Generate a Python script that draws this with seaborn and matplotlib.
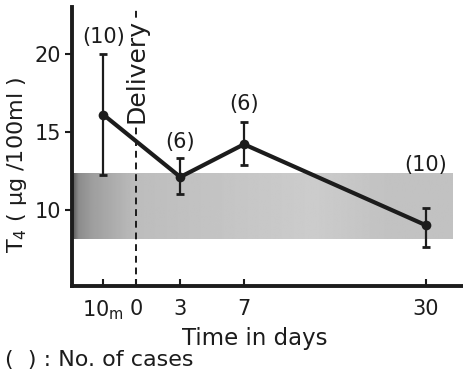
import numpy as np
import matplotlib
matplotlib.use('Agg')
import matplotlib.pyplot as plt
import seaborn as sns

###############################################################################

# Serum T4 around delivery (mean, error bar ends)
point_names = ['10m', '3', '7', '30']
t4_mean = [16.1, 12.1, 14.2, 9.0]
t4_low = [12.2, 11.0, 12.9, 7.6]
t4_high = [20.0, 13.3, 15.6, 10.1]
n_cases = [10, 6, 6, 10]

# normal range (shaded band)
norm_lo, norm_hi = 8.1, 12.3

tick_names = ['10m', '0', '3', '7', '30']
tick_labels = [r'10$_{\mathrm{m}}$', '0', '3', '7', '30']

# compressed time axis: where each time point sits on the drawing
axis_pos = {'10m': -2.2, '0': 0.0, '3': 3.0, '7': 7.3, '30': 19.6}
count_gap = [1.1, 1.05, 1.2, 2.75]

###############################################################################

if __name__ == "__main__":

    sns.set_style('ticks')
    plt.rcParams['font.family'] = ['DejaVu Sans']
    ink = '#1c1c1c'

    fig, ax = plt.subplots(figsize=(4.64, 3.74), dpi=100)
    fig.subplots_adjust(left=0.155, right=1.0, bottom=0.235, top=0.981)

    xs = np.array([axis_pos[k] for k in point_names])
    mean = np.array(t4_mean)
    lo = np.array(t4_low)
    hi = np.array(t4_high)

    x_min, x_max = -4.32, 22.16
    y_min, y_max = 5.1, 23.0

    # dotted grey band, darker near the left edge like the print
    stops_x = [x_min, -3.9, -3.0, 0.0, 4.0, 12.0, 17.0, 21.4]
    stops_v = [0.35, 0.55, 0.62, 0.74, 0.76, 0.80, 0.76, 0.76]
    cols = np.linspace(x_min, 21.4, 300)
    shade = np.interp(cols, stops_x, stops_v)[None, :]
    ax.imshow(shade, cmap='gray', vmin=0, vmax=1, aspect='auto',
              extent=[x_min, 21.4, norm_lo, norm_hi], zorder=0,
              interpolation='bilinear')

    # delivery marker
    ax.axvline(0, color=ink, linestyle=(0, (3.5, 2.5)), linewidth=1.4,
               zorder=1)
    ax.text(0.07, 18.87, 'Delivery', rotation=90, ha='center', va='center',
            fontsize=18, color=ink, zorder=2,
            bbox=dict(facecolor='white', edgecolor='none', pad=1.0))

    ax.errorbar(xs, mean, yerr=[mean - lo, hi - mean], fmt='none',
                ecolor=ink, elinewidth=1.6, capsize=3, capthick=2,
                zorder=3)
    sns.lineplot(x=xs, y=mean, ax=ax, color=ink, linewidth=3,
                 marker='o', markersize=7, markeredgewidth=0, sort=False,
                 errorbar=None, zorder=4)

    for ii in range(len(point_names)):
        ax.text(xs[ii], hi[ii] + count_gap[ii], '(%d)' % n_cases[ii],
                ha='center', va='center', fontsize=15, color=ink)

    ax.set_xlim(x_min, x_max)
    ax.set_ylim(y_min, y_max)
    ax.set_xticks([axis_pos[k] for k in tick_names])
    ax.set_xticklabels(tick_labels)
    ax.set_yticks([10, 15, 20])

    sns.despine(ax=ax)
    for side in ['left', 'bottom']:
        ax.spines[side].set_linewidth(2.8)
        ax.spines[side].set_color(ink)
    ax.tick_params(axis='y', direction='out', length=5, width=1.5,
                   labelsize=15, pad=3, colors=ink)
    ax.tick_params(axis='x', direction='in', length=5, width=1.5,
                   labelsize=15, pad=9, colors=ink)

    ax.set_xlabel('Time in days', fontsize=16.5, color=ink)
    ax.xaxis.set_label_coords(0.467, -0.145)
    ax.set_ylabel(r'T$_4$ ( μg /100ml )', fontsize=16, color=ink)
    ax.yaxis.set_label_coords(-0.11, 0.434)

    fig.text(0.011, 0.037, '(  ) : No. of cases', ha='left', va='center',
             fontsize=16, color=ink)

    fig.savefig('out.png', dpi=100)
